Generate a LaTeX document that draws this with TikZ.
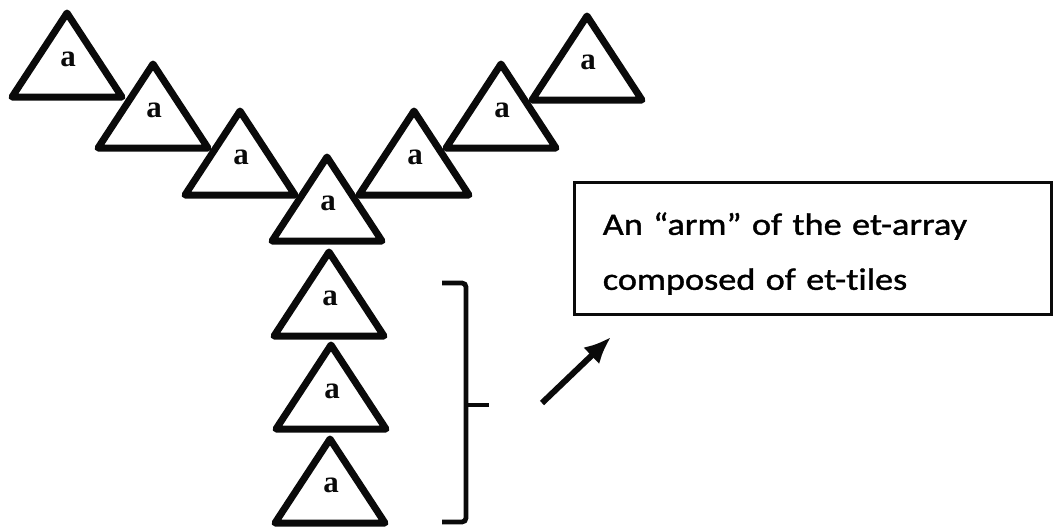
\documentclass[tikz,border=0pt]{standalone}
\usepackage{fontspec}
\usepackage{tikz}
\usetikzlibrary{arrows.meta,positioning,calc}
\newfontfamily\calibfont[FakeStretch=1.17,FakeBold=1.2,Ligatures=CommonOff,WordSpace=0.65]{Carlito}
\newfontfamily\tilefont{Liberation Serif}
\definecolor{inkblack}{RGB}{10,10,10}

\tikzset{
  tileedge/.style={draw=inkblack, line width=7pt, line join=round},
  tilelabel/.style={font=\tilefont\fontsize{31}{31}\selectfont\bfseries, text=inkblack, inner sep=0pt},
  notebox/.style={draw=inkblack, line width=2.6pt, anchor=north west, align=left,
        font=\calibfont\fontsize{31}{55}\selectfont, text width=420pt,
        minimum width=477pt, minimum height=132pt, inner xsep=28pt},
  bracketline/.style={draw=inkblack, line width=4.8pt, rounded corners=4pt},
  pointer/.style={draw=inkblack, line width=6pt, -{Latex[length=27pt,width=23pt]}}
}

\begin{document}
\begin{tikzpicture}[x=1pt,y=-1pt]
  \useasboundingbox (0,0) rectangle (1053,528);
  % et-tiles: name / base centre x / base centre y
  \foreach \nm/\bx/\by in {up-l3/67/97, up-l2/153/148, up-l1/240/195,
                           hub/327/241,
                           up-r1/414/195, up-r2/501/148, up-r3/587/100,
                           dn-1/329/336, dn-2/331/429, dn-3/330/523} {
    \draw[tileedge] (\bx-55,\by) -- (\bx,\by-84) -- (\bx+55,\by) -- cycle;
    \node[tilelabel] (\nm) at (\bx+1,\by-38) {a};
  }

  % bracket round the lower arm
  \coordinate (brtop) at (442,283);
  \coordinate (brbot) at (442,522);
  \coordinate (brmid) at (466,405);
  \coordinate (brtip) at (489,405);
  \draw[bracketline] (brtop) -- (466,283) -- (466,522) -- (brbot);
  \draw[bracketline] (brmid) -- (brtip);

  % caption
  \node[notebox] (caption) at (573,181)
    {\rule{0pt}{33pt}An “arm” of the et-array\\composed of et-tiles};

  \coordinate (ptrtail) at (542,403);
  \coordinate (ptrhead) at (611,337);
  \draw[pointer] (ptrtail) -- (ptrhead);
\end{tikzpicture}
\end{document}
